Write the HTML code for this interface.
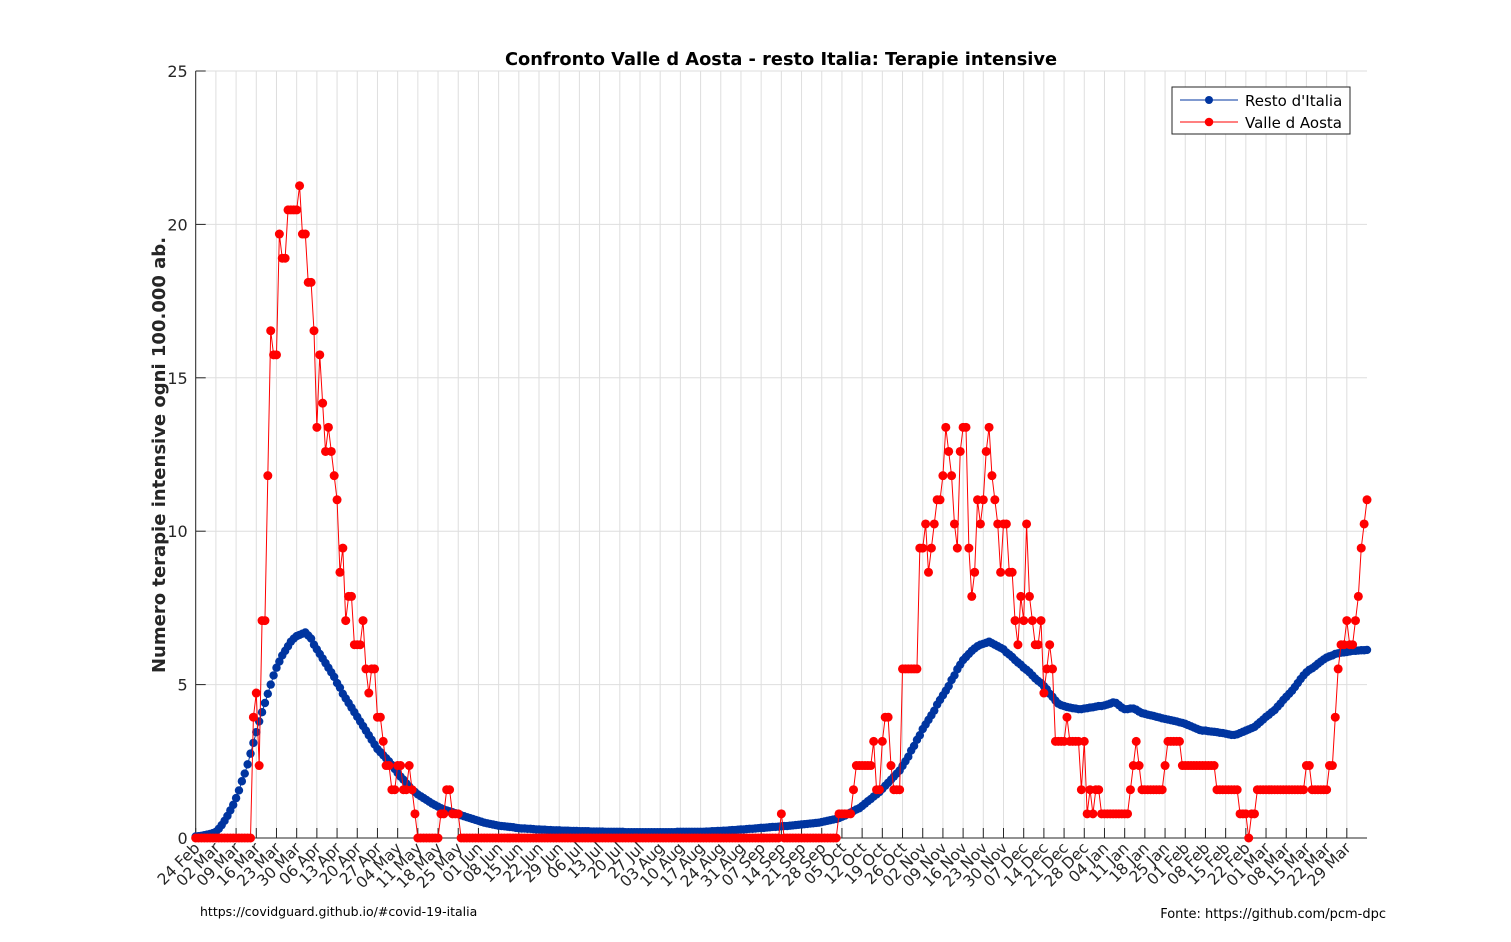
<!DOCTYPE html>
<html><head><meta charset="utf-8">
<style>
html,body{margin:0;padding:0;background:#fff;}
svg{display:block;font-family:"DejaVu Sans","Liberation Sans",sans-serif;}
</style></head>
<body>
<svg id="chart" width="1511" height="942" viewBox="0 0 1511 942" xmlns="http://www.w3.org/2000/svg">
<rect width="1511" height="942" fill="#fff"/>
<g id="grid"></g>
<g id="axes"></g>
<g id="series"></g>
<text x="781" y="65" text-anchor="middle" font-size="17.8" font-weight="bold" fill="#000">Confronto Valle d Aosta - resto Italia: Terapie intensive</text>
<text transform="translate(165,455) rotate(-90)" text-anchor="middle" font-size="18" font-weight="bold" fill="#262626">Numero terapie intensive ogni 100.000 ab.</text>
<g>
<rect x="1172" y="87" width="178" height="47" fill="#fff" stroke="#262626" stroke-width="1"/>
<g>
<line x1="1180" y1="100" x2="1238" y2="100" stroke="#0035a0" stroke-width="1"/>
<circle cx="1209" cy="100" r="4" fill="#0035a0"/>
<text x="1245" y="106" font-size="15" fill="#000">Resto d'Italia</text>
</g>
<g>
<line x1="1180" y1="122" x2="1238" y2="122" stroke="#ff0000" stroke-width="1"/>
<circle cx="1209" cy="122" r="4.3" fill="#ff0000"/>
<text x="1245" y="128" font-size="15" fill="#000">Valle d Aosta</text>
</g>
</g>
<text x="200" y="916" font-size="12.5" fill="#000">https://covidguard.github.io/#covid-19-italia</text>
<text x="1386" y="918" text-anchor="end" font-size="13" fill="#000">Fonte: https://github.com/pcm-dpc</text>
</svg>
<script>
// ---- data ----
const startDate = [2020, 1, 24];
const yTicks = [0, 5, 10, 15, 20, 25];
const tickEveryDays = 7;
const numTicks = 58;
const vdaScale = 0.7874; // per 100k per patient
const restoItalia = [
0.05,0.06,0.07,0.09,0.11,0.13,0.16,0.2,
0.3,0.42,0.56,0.72,0.9,1.08,1.3,
1.55,1.85,2.1,2.4,2.75,3.1,3.45,
3.8,4.1,4.4,4.7,5.0,5.3,5.55,
5.75,5.95,6.1,6.25,6.4,6.5,6.58,
6.62,6.66,6.7,6.6,6.5,6.3,6.15,
6.0,5.85,5.7,5.55,5.4,5.25,5.05,
4.9,4.7,4.55,4.4,4.25,4.1,3.95,
3.8,3.65,3.5,3.35,3.2,3.05,2.9,
2.8,2.7,2.6,2.5,2.38,2.25,2.12,
2.0,1.9,1.78,1.68,1.58,1.5,1.42,
1.36,1.3,1.24,1.18,1.12,1.07,1.02,
0.97,0.93,0.9,0.87,0.84,0.81,0.78,
0.74,0.71,0.68,0.65,0.62,0.59,0.56,
0.53,0.5,0.48,0.46,0.44,0.42,0.4,
0.39,0.38,0.37,0.36,0.35,0.33,0.32,
0.31,0.31,0.3,0.3,0.29,0.28,0.28,0.27,0.27,0.26,
0.26,0.25,0.25,0.25,0.24,0.24,0.24,0.23,0.23,0.23,0.22,0.22,0.22,0.22,0.21,0.21,0.21,0.21,
0.21,0.2,0.2,0.2,0.2,0.2,0.2,0.2,0.19,0.19,0.19,0.19,0.19,0.19,0.19,0.19,0.19,
0.19,0.19,0.19,0.19,0.19,0.19,0.19,0.19,0.19,0.2,0.2,0.2,0.2,0.2,0.2,0.2,0.2,0.2,
0.2,0.21,0.21,0.22,0.22,0.23,0.23,0.24,0.24,0.25,
0.26,0.26,0.27,0.28,0.28,0.29,0.3,0.3,0.31,0.32,
0.33,0.33,0.34,0.35,0.36,0.36,0.37,0.38,0.39,0.39,0.4,
0.41,0.42,0.43,0.44,0.45,0.46,0.47,0.48,0.49,0.5,
0.52,0.54,0.56,0.58,0.6,0.62,0.65,
0.69,0.73,0.78,0.83,0.88,0.93,0.97,
1.04,1.12,1.2,1.27,1.35,1.42,1.5,
1.6,1.7,1.8,1.9,2.0,2.1,2.2,
2.35,2.5,2.65,2.85,3.0,3.2,3.35,
3.55,3.7,3.85,4.0,4.15,4.35,4.5,
4.65,4.8,4.95,5.15,5.3,5.5,5.65,
5.8,5.9,6.0,6.1,6.18,6.25,6.3,
6.33,6.36,6.4,6.35,6.3,6.25,6.2,
6.15,6.05,5.98,5.9,5.8,5.72,5.65,
5.55,5.48,5.4,5.3,5.2,5.12,5.05,
4.95,4.85,4.7,4.6,4.48,4.38,4.33,
4.3,4.27,4.25,4.23,4.22,4.2,4.2,
4.22,4.23,4.25,4.26,4.28,4.3,4.3,
4.32,4.35,4.38,4.42,4.4,4.33,4.25,
4.2,4.2,4.22,4.22,4.18,4.12,4.07,
4.05,4.02,4.0,3.98,3.95,3.93,3.9,
3.88,3.86,3.84,3.82,3.8,3.77,3.75,
3.72,3.68,3.64,3.6,3.56,3.52,3.5,
3.5,3.48,3.47,3.46,3.45,3.43,3.42,
3.4,3.38,3.36,3.36,3.38,3.42,3.46,
3.5,3.54,3.58,3.62,3.7,3.78,3.86,
3.95,4.02,4.1,4.17,4.28,4.38,4.5,
4.6,4.7,4.8,4.92,5.05,5.18,5.3,
5.4,5.48,5.53,5.6,5.68,5.75,5.82,
5.88,5.92,5.95,6.0,6.02,6.04,6.05,
6.06,6.08,6.1,6.1,6.11,6.12,6.12,6.13
];
const valleDAostaPatients = [
0,0,0,0,0,0,0,0,0,0,0,0,0,0,0,0,0,0,0,0,
5,6,3,9,9,15,21,20,20,25,
24,24,26,26,26,26,27,25,25,23,
23,21,17,20,18,16,17,16,15,14,
11,12,9,10,10,8,8,8,9,7,
6,7,7,5,5,4,3,3,2,2,
3,3,2,2,3,2,1,0,0,0,
0,0,0,0,0,1,1,2,2,1,
1,1,
0,0,0,0,0,0,0,0,0,0,0,0,0,0,0,0,0,0,0,0,0,0,0,0,0,0,0,0,0,0,0,0,0,0,0,0,0,0,0,0,0,0,0,0,0,0,0,0,0,0,0,0,0,0,0,
0,0,0,0,0,0,0,0,0,0,0,0,0,0,0,0,0,0,0,0,0,0,0,0,0,0,0,0,0,0,0,0,0,0,0,0,0,0,0,0,0,0,0,0,0,0,0,0,0,0,0,0,0,0,0,0,
1,
0,0,0,0,0,0,0,0,0,0,0,0,0,0,0,0,0,0,0,
1,1,1,1,1,
2,
3,3,3,3,3,3,
4,2,2,4,5,5,3,2,2,2,
7,7,7,7,7,7,
12,12,
13,11,12,13,14,14,15,17,16,15,13,12,16,17,17,12,10,11,14,13,14,16,17,15,14,13,11,13,13,11,11,9,8,10,9,13,10,9,8,8,9,6,7,8,7,4,
4,4,4,5,4,4,4,4,
2,4,1,2,1,2,2,
1,1,1,1,1,1,1,1,1,1,
2,3,4,3,
2,2,2,2,2,2,2,2,
3,
4,4,4,4,4,
3,3,3,3,3,3,3,3,3,3,3,3,
2,2,2,2,2,2,2,2,
1,1,1,
0,
1,1,
2,2,2,2,2,2,2,2,2,2,2,2,2,2,2,2,2,
3,3,
2,2,2,2,2,2,
3,3,
5,7,8,8,9,8,8,9,10,12,13,14
];

// ---- scales ----
const NS = 'http://www.w3.org/2000/svg';
const X0 = 195.7, PXD = 2.885, XMAXD = 406;
const Y0 = 838, Y1 = 71, YMAX = 25;
const xOf = d => X0 + d * PXD;
const yOf = v => Y0 - (v / YMAX) * (Y0 - Y1);
const months = ['Jan','Feb','Mar','Apr','May','Jun','Jul','Aug','Sep','Oct','Nov','Dec'];
function mk(tag, attrs, parent) {
  const e = document.createElementNS(NS, tag);
  for (const k in attrs) e.setAttribute(k, attrs[k]);
  parent.appendChild(e);
  return e;
}
const grid = document.getElementById('grid');
const axes = document.getElementById('axes');
const series = document.getElementById('series');
const xR = xOf(XMAXD);

yTicks.forEach(v => {
  const y = yOf(v);
  const g = mk('line', {x1: X0, x2: xR, y1: y, y2: y, stroke: '#dedede', 'stroke-width': 1}, grid);
  
  
  const t = mk('line', {x1: X0, x2: X0 + 10, y1: y, y2: y, stroke: '#262626', 'stroke-width': 1}, axes);
  
  
  const lb = mk('text', {x: X0 - 8, y: y + 6, 'text-anchor': 'end', 'font-size': 16, fill: '#262626'}, axes);
  lb.textContent = String(v);
  
  
});
for (let i = 0; i < numTicks; i++) {
  const d = i * tickEveryDays;
  const x = xOf(d);
  const dt = new Date(startDate[0], startDate[1], startDate[2] + d);
  const label = String(dt.getDate()).padStart(2, '0') + ' ' + months[dt.getMonth()];
  const g = mk('line', {x1: x, x2: x, y1: Y1, y2: Y0, stroke: '#dedede', 'stroke-width': 1}, grid);
  
  
  const t = mk('line', {x1: x, x2: x, y1: Y0, y2: Y0 - 10, stroke: '#262626', 'stroke-width': 1}, axes);
  
  
  const lb = mk('text', {transform: 'translate(' + (x + 5) + ',' + (Y0 + 11) + ') rotate(-45)', 'text-anchor': 'end', 'font-size': 15.5, fill: '#262626'}, axes);
  lb.textContent = label;
  
  
}
const ax1 = mk('line', {x1: X0, x2: X0, y1: Y1, y2: Y0, stroke: '#262626', 'stroke-width': 1}, axes);


const ax2 = mk('line', {x1: X0, x2: xR, y1: Y0, y2: Y0, stroke: '#262626', 'stroke-width': 1}, axes);



function drawSeries(vals, color, name, r) {
  const g = mk('g', {}, series);
  
  
  const pts = vals.map((v, i) => xOf(i).toFixed(2) + ',' + yOf(v).toFixed(2)).join(' ');
  const pl = mk('polyline', {points: pts, fill: 'none', stroke: color, 'stroke-width': 1}, g);
  
  
  vals.forEach((v, i) => {
    const c = mk('circle', {cx: xOf(i).toFixed(2), cy: yOf(v).toFixed(2), r: r, fill: color}, g);
    
    
  });
}
drawSeries(restoItalia, '#0035a0', 'resto-italia-series', 4.2);
drawSeries(valleDAostaPatients.map(c => c * vdaScale), '#ff0000', 'valle-d-aosta-series', 4.5);
</script>
</body></html>
